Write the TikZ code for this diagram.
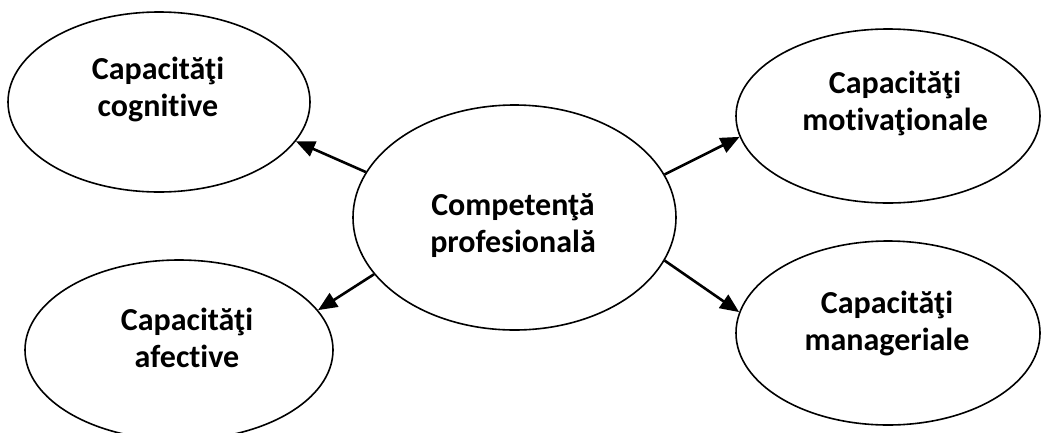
\documentclass[tikz,border=0pt]{standalone}
\usepackage{fontspec}
\setmainfont{Carlito}[Ligatures={NoCommon}]
\usetikzlibrary{shapes.geometric,arrows.meta}
\tikzset{
  oval/.style={draw=black, line width=1.6pt, ellipse, inner sep=0pt, fill=white},
  lbl/.style={align=center, inner sep=0pt, font=\bfseries\fontsize{32}{37}\selectfont},
  arr/.style={line width=2.6pt, -{Triangle[length=19pt,width=16pt]}}
}
\begin{document}
\begin{tikzpicture}[x=1pt,y=-1pt]
\useasboundingbox (0,0) rectangle (1041,432);
\node[oval, minimum width=302pt, minimum height=180pt] (tl) at (159,102) {};
\node[oval, minimum width=323pt, minimum height=225pt] (c) at (514.5,217.5) {};
\node[oval, minimum width=304pt, minimum height=174pt] (tr) at (888,116) {};
\node[oval, minimum width=308pt, minimum height=180pt] (bl) at (179,350) {};
\node[oval, minimum width=304pt, minimum height=184pt] (br) at (888,333) {};
\node[lbl] (tlt) at (158,89) {Capacităţi\\cognitive};
\node[lbl] (ct) at (513,226) {Competenţă\\profesională};
\node[lbl] (trt) at (895,103) {Capacităţi\\motivaţionale};
\node[lbl] (blt) at (187,338) {Capacităţi\\afective};
\node[lbl] (brt) at (887,323) {Capacităţi\\manageriale};
\draw[arr] (c.163.4) -- (tl.-16.7);
\draw[arr] (c.16.8) -- (tr.-172.4);
\draw[arr] (c.202.4) -- (bl.16.7);
\draw[arr] (c.-16.8) -- (br.172.1);
\end{tikzpicture}
\end{document}
